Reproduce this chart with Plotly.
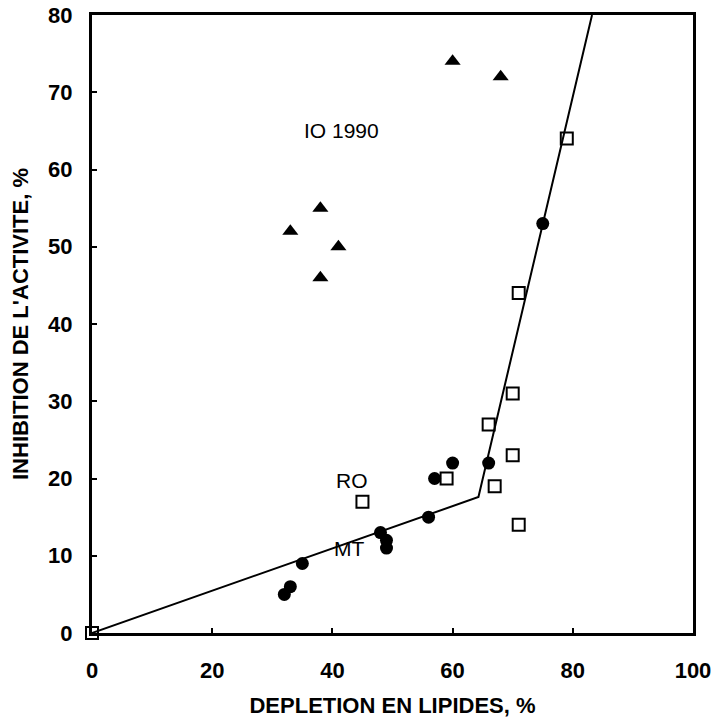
import plotly.graph_objects as go

# Data
tri_x = [33, 38, 38, 41, 60, 68]
tri_y = [52, 55, 46, 50, 74, 72]

circ_x = [32, 33, 35, 48, 49, 49, 56, 57, 60, 66, 75]
circ_y = [5, 6, 9, 13, 12, 11, 15, 20, 22, 22, 53]

sq_x = [0, 45, 59, 66, 67, 70, 70, 71, 71, 79]
sq_y = [0, 17, 20, 27, 19, 31, 23, 14, 44, 64]

line_x = [0, 64.3, 83.2]
line_y = [0, 17.6, 80]

labels = ["IO 1990", "RO", "MT"]
label_x = [41.5, 43.2, 42.8]
label_y = [65, 19.8, 11]

x_ticks = [0, 20, 40, 60, 80, 100]
y_ticks = [0, 10, 20, 30, 40, 50, 60, 70, 80]

FONT = "Liberation Sans, Arial"

fig = go.Figure()
fig.add_trace(go.Scatter(x=line_x, y=line_y, mode="lines",
                         line=dict(color="black", width=2)))
fig.add_trace(go.Scatter(x=tri_x, y=tri_y, mode="markers",
                         marker=dict(symbol="triangle-up", size=14, color="black")))
fig.add_trace(go.Scatter(x=circ_x, y=circ_y, mode="markers",
                         marker=dict(symbol="circle", size=13, color="black")))
fig.add_trace(go.Scatter(x=sq_x, y=sq_y, mode="markers", cliponaxis=False,
                         marker=dict(symbol="square-open", size=12, color="black",
                                     line=dict(width=2, color="black"))))

for t, x, y in zip(labels, label_x, label_y):
    fig.add_annotation(x=x, y=y, text=t, showarrow=False,
                       font=dict(family=FONT, size=21, color="black"))

axis_common = dict(showline=True, linecolor="black", linewidth=3, mirror=True,
                   ticks="inside", ticklen=5, tickwidth=2, tickcolor="black",
                   showgrid=False, zeroline=False, automargin=False,
                   tickfont=dict(family=FONT, size=22, color="black", weight="bold"))

fig.update_xaxes(range=[0, 100], tickvals=x_ticks, ticklabelstandoff=16,
                 title=dict(text="DEPLETION EN LIPIDES, %",
                            font=dict(family=FONT, size=22, color="black", weight="bold"),
                            standoff=16),
                 **axis_common)
fig.update_yaxes(range=[0, 80], tickvals=y_ticks, ticklabelstandoff=12,
                 title=dict(text="INHIBITION DE L'ACTIVITE, %",
                            font=dict(family=FONT, size=22, color="black", weight="bold"),
                            standoff=14),
                 **axis_common)

fig.update_layout(width=715, height=719, showlegend=False,
                  plot_bgcolor="white", paper_bgcolor="white",
                  margin=dict(l=92, r=22, t=15, b=86),
                  font=dict(family=FONT, color="black"))

fig.write_html("out.html")
